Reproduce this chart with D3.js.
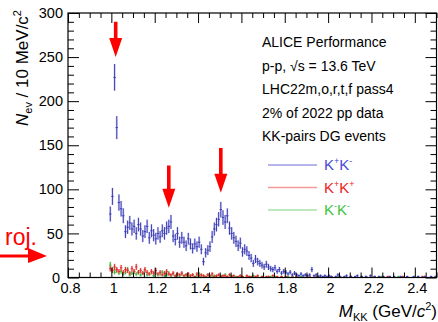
<!DOCTYPE html>
<html><head><meta charset="utf-8">
<script src="https://cdn.jsdelivr.net/npm/d3@7"></script>
<style>
html,body{margin:0;padding:0;background:#fff;}
svg text{font-family:"Liberation Sans",Arial,sans-serif;}
</style></head>
<body>
<svg id="c" width="438" height="322"></svg>
<script>
// ---- data ----
const binStart = 0.99;   // first bin low edge (GeV/c^2)
const binWidth = 0.01;   // 10 MeV bins
const kpkm = [72,92,227,170,85,78,70,52,57,62,55,58,50,60,55,47,52,58,45,53,
  48,44,50,46,53,50,56,58,63,47,43,50,40,45,40,36,44,38,33,38,
  35,40,32,18,28,31,35,46,55,60,66,77,68,63,70,56,50,45,41,36,
  39,29,32,30,25,22,16,21,18,16,14,12,15,12,10,9,11,7,9,5,
  7,6,4,6,3,5,3,2,4,2,3,2,3,9,2,3,1,2,1,2,
  1,2,1,0,1,3,1,0,1,2,0,1,0,1,2,0,1,0,1,0,
  2,0,1,0,1,0,1,0,0,1,0,1,0,0,1,0,0,1,0,0,
  1,0,1,0,0,1,0,0,1,0,1];
const kpkp = [10,8,12,9,7,11,6,9,8,5,10,7,12,6,8,5,9,6,4,7,
  5,8,4,6,3,5,7,4,3,5,2,4,3,5,2,3,4,2,3,1,
  4,2,3,2,1,3,2,4,1,2,3,1,2,2,1,3,1,2,0,1,
  2,1,0,2,1,1,0,1,2,0,1,0,1,1,0,2,0,1,0,1,
  0,1,0,0,1,0,1,0,0,1,0,0,1,0,0,1,0,0,0,1,
  0,0,1,0,0,0,1,0,0,0,0,1,0,0,0,0,1,0,0,0,
  0,0,1,0,0,0,0,0,1,0,0,0,0,0,0,1,0,0,0,0,
  0,0,0,0,1,0,0,0,0,0,0];
const kmkm = [14,9,6,8,5,7,4,6,9,3,5,7,4,6,3,5,8,3,4,6,
  2,5,3,4,6,2,3,5,2,4,1,3,2,4,2,3,1,2,3,1,
  2,4,1,2,1,3,1,2,2,1,0,2,1,3,1,0,2,1,1,0,
  2,1,0,1,1,0,2,0,1,0,1,0,0,1,1,0,1,0,0,1,
  0,0,1,0,1,0,0,0,1,0,0,1,0,0,0,0,1,0,0,0,
  1,0,0,0,0,1,0,0,0,0,0,1,0,0,0,0,0,0,1,0,
  0,0,0,0,0,1,0,0,0,0,0,0,0,1,0,0,0,0,0,0,
  0,0,1,0,0,0,0,0,0,0,0];
const xMajorTicks = [0.8,1.0,1.2,1.4,1.6,1.8,2.0,2.2,2.4];
const yMajorTicks = [0,50,100,150,200,250,300];
const seriesNames = ["K+K-","K+K+","K-K-"];
const infoLines = ["ALICE Performance","p-p, √s = 13.6 TeV","LHC22m,o,r,t,f  pass4","2% of 2022 pp data","KK-pairs DG events"];
// resonance arrows: mass, arrow top value, arrow tip value
const arrowMass = [1.02, 1.265, 1.505];
const arrowTop  = [290, 127, 147];
const arrowTip  = [250, 79, 96];

// ---- layout ----
const svg = d3.select("#c");
const L = 68, R = 436.5, T = 13, B = 277.5;
const x = d3.scaleLinear().domain([0.8, 2.5]).range([L, R]);
const y = d3.scaleLinear().domain([0, 300]).range([B, T]);

const styles = [
  {line:"#3c3cb4", box:"#c3c6ee", leg:"#9c9ce6", txt:"#4a4ad6"},
  {line:"#e02a2a", box:"#f6b8b8", leg:"#f59a9a", txt:"#f01c1c"},
  {line:"#34b834", box:"#b8e8b8", leg:"#a4e2a4", txt:"#3cc43c"}
];

const dataG = svg.append("g");
function drawSeries(vals, st) {
  const g = dataG.append("g");
  const pts = vals.map((v,i)=>({c: binStart + binWidth*(i+0.5), v})).filter(d=>d.v>0);
  g.selectAll("rect").data(pts).join("rect")
    .attr("x", d=>x(d.c - binWidth/2)).attr("width", d=>x(d.c+binWidth/2)-x(d.c-binWidth/2))
    .attr("y", d=>y(d.v+Math.sqrt(d.v))).attr("height", d=>y(d.v-Math.sqrt(d.v))-y(d.v+Math.sqrt(d.v)))
    .attr("fill", st.box).attr("opacity",0.7);
  g.selectAll("line.e").data(pts).join("line").attr("class","e")
    .attr("x1", d=>x(d.c)).attr("x2", d=>x(d.c))
    .attr("y1", d=>y(d.v+Math.sqrt(d.v))).attr("y2", d=>y(d.v-Math.sqrt(d.v)))
    .attr("stroke", st.line).attr("stroke-width",1);
  g.selectAll("line.h").data(pts).join("line").attr("class","h")
    .attr("x1", d=>x(d.c)-1.2).attr("x2", d=>x(d.c)+1.2)
    .attr("y1", d=>y(d.v)).attr("y2", d=>y(d.v))
    .attr("stroke", st.line).attr("stroke-width",1);
}
drawSeries(kmkm, styles[2]);
drawSeries(kpkp, styles[1]);
drawSeries(kpkm, styles[0]);

// ---- axes (ROOT style, ticks inside) ----
const xMinor = d3.range(0.8, 2.5001, 0.05).filter(v=>!xMajorTicks.some(m=>Math.abs(m-v)<1e-6));
const yMinor = d3.range(0, 300.001, 10).filter(v=>v%50!==0);
function styleAxis(g){ g.select(".domain").remove(); g.selectAll(".tick line").attr("stroke","#000"); }

svg.append("g").attr("transform",`translate(0,${B})`)
  .call(d3.axisBottom(x).tickValues(xMajorTicks).tickSize(-10).tickPadding(4).tickFormat(d3.format("~g")))
  .call(styleAxis)
  .call(g=>g.selectAll("text").attr("font-size",14.5).attr("fill","#000").attr("dy","0").attr("y",15).attr("x",2));
svg.append("g").attr("transform",`translate(0,${B})`)
  .call(d3.axisBottom(x).tickValues(xMinor).tickSize(-5).tickFormat("")).call(styleAxis);
svg.append("g").attr("transform",`translate(0,${T})`)
  .call(d3.axisTop(x).tickValues(xMajorTicks).tickSize(-10).tickFormat("")).call(styleAxis);
svg.append("g").attr("transform",`translate(0,${T})`)
  .call(d3.axisTop(x).tickValues(xMinor).tickSize(-5).tickFormat("")).call(styleAxis);

svg.append("g").attr("transform",`translate(${L},0)`)
  .call(d3.axisLeft(y).tickValues(yMajorTicks).tickSize(-11).tickPadding(5))
  .call(styleAxis)
  .call(g=>g.selectAll("text").attr("font-size",14.5).attr("fill","#000").attr("x",d=>d===0?-8:-5));
svg.append("g").attr("transform",`translate(${L},0)`)
  .call(d3.axisLeft(y).tickValues(yMinor).tickSize(-6).tickFormat("")).call(styleAxis);
svg.append("g").attr("transform",`translate(${R},0)`)
  .call(d3.axisRight(y).tickValues(yMajorTicks).tickSize(-11).tickFormat("")).call(styleAxis);
svg.append("g").attr("transform",`translate(${R},0)`)
  .call(d3.axisRight(y).tickValues(yMinor).tickSize(-6).tickFormat("")).call(styleAxis);

svg.append("rect").attr("x",L).attr("y",T).attr("width",R-L).attr("height",B-T)
  .attr("fill","none").attr("stroke","#000").attr("stroke-width",1.2);

// ---- titles ----
const yt = svg.append("text").attr("transform","translate(28,10) rotate(-90)")
  .attr("text-anchor","end").attr("font-size",17).attr("fill","#000");
yt.append("tspan").attr("font-style","italic").text("N");
yt.append("tspan").attr("font-size",11).attr("dy",4).text("ev");
yt.append("tspan").attr("dy",-4).text(" / 10 MeV/c");
yt.append("tspan").attr("font-size",11).attr("dy",-7).text("2");

const xt = svg.append("text").attr("x",437).attr("y",317)
  .attr("text-anchor","end").attr("font-size",17).attr("fill","#000");
xt.append("tspan").attr("font-style","italic").text("M");
xt.append("tspan").attr("font-size",11).attr("dy",4).text("KK");
xt.append("tspan").attr("dy",-4).text(" (GeV/");
xt.append("tspan").attr("font-style","italic").text("c");
xt.append("tspan").attr("font-size",11).attr("dy",-7).text("2");
xt.append("tspan").attr("dy",7).text(")");

// ---- info text ----
svg.append("g").selectAll("text").data(infoLines).join("text")
  .attr("x",262).attr("y",(d,i)=>47+i*23.6).attr("font-size",14).attr("fill","#000").text(d=>d);

// ---- legend ----
const leg = svg.append("g");
seriesNames.forEach((nm,i)=>{
  const yy = 165 + i*22.5;
  leg.append("line").attr("x1",268).attr("x2",317).attr("y1",yy).attr("y2",yy)
    .attr("stroke",styles[i].leg).attr("stroke-width",1.5);
  const t = leg.append("text").attr("x",324).attr("y",yy+5).attr("font-size",15).attr("fill",styles[i].txt);
  t.append("tspan").text("K");
  t.append("tspan").attr("font-size",9).attr("dy",-6).text(nm[1]==="+"?"+":"-");
  t.append("tspan").attr("dy",6).text("K");
  t.append("tspan").attr("font-size",9).attr("dy",-6).text(nm[3]==="+"?"+":"-");
});

// ---- red arrows ----
const ag = svg.append("g").attr("fill","#ff0000");
arrowMass.forEach((m,i)=>{
  const cx = x(m), yTop = y(arrowTop[i]), yTip = y(arrowTip[i]), hh = 19, hw = 6.5, sw = 1.8;
  ag.append("path").attr("d",
    `M${cx-sw},${yTop} L${cx+sw},${yTop} L${cx+sw},${yTip-hh} L${cx+hw},${yTip-hh} L${cx},${yTip} L${cx-hw},${yTip-hh} L${cx-sw},${yTip-hh} Z`);
});
// left projection arrow (cut-off annotation)
svg.append("text").attr("x",37).attr("y",245).attr("text-anchor","end")
  .attr("font-size",23).attr("fill","#ff0000").text("roj.");
ag.append("path").attr("d","M0,254.5 L28,254.5 L28,248 L47,256 L28,263 L28,257.5 L0,257.5 Z");
</script>
</body></html>
